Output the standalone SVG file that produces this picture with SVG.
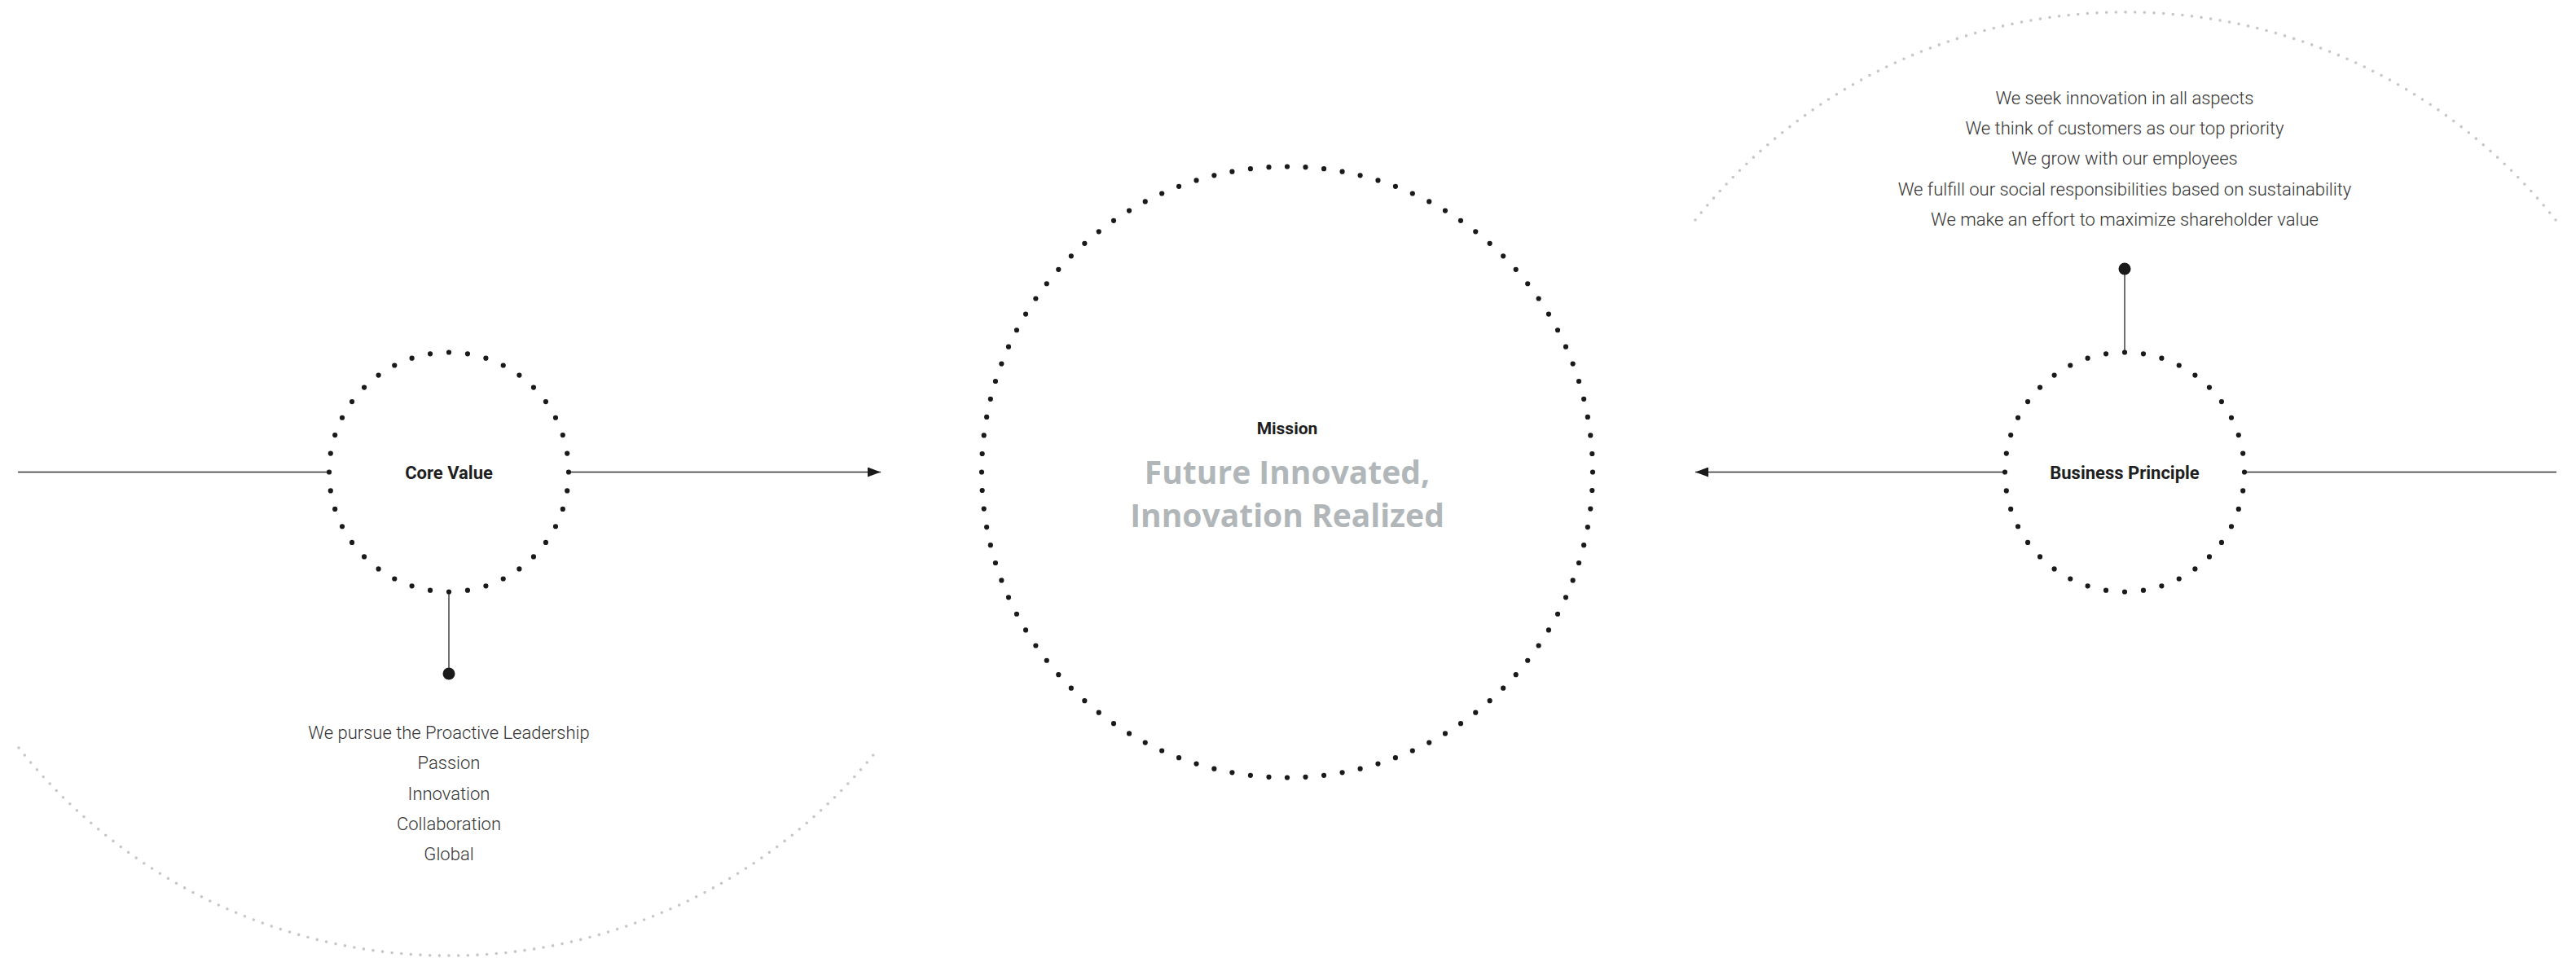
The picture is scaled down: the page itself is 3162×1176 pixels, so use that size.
<svg xmlns="http://www.w3.org/2000/svg" width="3162" height="1176" viewBox="0 0 3162 1176">
  <style>
    .bg { fill: #ffffff; }
    .ring { fill: none; stroke: #1a1a1a; stroke-width: 6.2; stroke-linecap: round; stroke-dasharray: 0 1; }
    .arc { fill: none; stroke: #c6c6c6; stroke-width: 3.6; stroke-linecap: round; stroke-dasharray: 0 1; }
    .conn { fill: none; stroke: #333333; stroke-width: 1.4; }
    .end { fill: #1a1a1a; }
    .title { font-family: Roboto, "Liberation Sans", sans-serif; font-weight: 700; font-size: 22px; fill: #1f1f1f; text-anchor: middle; }
    .mlabel { font-family: Roboto, "Liberation Sans", sans-serif; font-weight: 700; font-size: 21px; fill: #1f1f1f; text-anchor: middle; }
    .mission { font-family: "Open Sans", "Liberation Sans", sans-serif; font-weight: 700; font-size: 39px; fill: #b1b6b9; text-anchor: middle; }
    .desc { font-family: Roboto, "Liberation Sans", sans-serif; font-weight: 300; font-size: 22px; fill: #333333; text-anchor: middle; }
  </style>
  <defs>
    <marker id="arrow" viewBox="0 0 16 12" refX="16" refY="6" markerWidth="16" markerHeight="12" markerUnits="userSpaceOnUse" orient="auto">
      <path d="M0,0 L16,6 L0,12 Z" fill="#1a1a1a"/>
    </marker>
  </defs>
  <rect class="bg" x="0" y="0" width="3162" height="1176"/>

  <g id="arcs">
    <path class="arc" pathLength="104" d="M 23 918 A 674 674 0 0 0 1079 918"/>
    <path class="arc" pathLength="104" d="M 2081 270 A 674 674 0 0 1 3137 270"/>
  </g>

  <g id="connectors">
    <line class="conn" x1="22" y1="579.5" x2="404" y2="579.5"/>
    <line class="conn" x1="699" y1="579.5" x2="1081" y2="579.5" marker-end="url(#arrow)"/>
    <line class="conn" x1="2461" y1="579.5" x2="2081" y2="579.5" marker-end="url(#arrow)"/>
    <line class="conn" x1="2755" y1="579.5" x2="3138" y2="579.5"/>
    <line class="conn" x1="551" y1="727" x2="551" y2="827"/>
    <circle class="end" cx="551" cy="827" r="7.5"/>
    <line class="conn" x1="2608" y1="432" x2="2608" y2="330"/>
    <circle class="end" cx="2608" cy="330" r="7.5"/>
  </g>

  <g id="core-value">
    <circle class="ring" cx="551" cy="579.5" r="147" pathLength="40"/>
    <text class="title" x="551" y="588">Core Value</text>
  </g>

  <g id="core-value-list">
    <text class="desc" x="551" y="907">We pursue the Proactive Leadership</text>
    <text class="desc" x="551" y="944">Passion</text>
    <text class="desc" x="551" y="981.5">Innovation</text>
    <text class="desc" x="551" y="1019">Collaboration</text>
    <text class="desc" x="551" y="1056">Global</text>
  </g>

  <g id="mission">
    <circle class="ring" cx="1580" cy="579.5" r="375" pathLength="104"/>
    <text class="mlabel" x="1580" y="533">Mission</text>
    <text class="mission" x="1580" y="594">Future Innovated,</text>
    <text class="mission" x="1580" y="647">Innovation Realized</text>
  </g>

  <g id="business-principle">
    <circle class="ring" cx="2608" cy="579.5" r="147" pathLength="40"/>
    <text class="title" x="2608" y="588">Business Principle</text>
  </g>

  <g id="business-principle-list">
    <text class="desc" x="2608" y="128">We seek innovation in all aspects</text>
    <text class="desc" x="2608" y="165">We think of customers as our top priority</text>
    <text class="desc" x="2608" y="202">We grow with our employees</text>
    <text class="desc" x="2608" y="239.5">We fulfill our social responsibilities based on sustainability</text>
    <text class="desc" x="2608" y="276.5">We make an effort to maximize shareholder value</text>
  </g>
</svg>
